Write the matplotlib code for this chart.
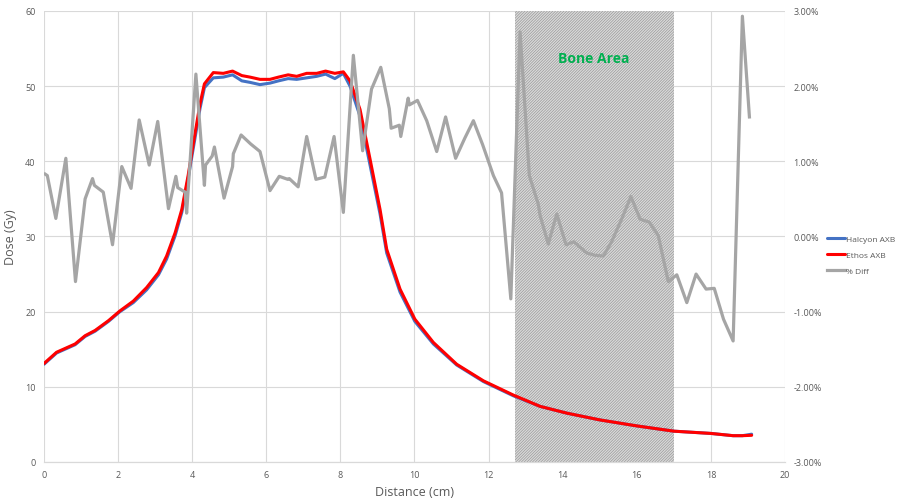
import numpy as np
from matplotlib import pyplot as plt
from matplotlib.ticker import FuncFormatter

# dose profiles (cm, Gy)
x_dose = [0, 0.34, 0.84, 1.11, 1.38, 1.74, 2.05, 2.41, 2.77, 3.09, 3.31, 3.54, 3.72, 3.89,
          4.08, 4.21, 4.33, 4.57, 4.84, 5.09, 5.34, 5.56, 5.83, 6.10, 6.33, 6.59, 6.82, 7.09,
          7.36, 7.60, 7.85, 8.08, 8.26, 8.53, 8.80, 9.07, 9.25, 9.61, 10.01, 10.51, 11.14,
          11.86, 12.67, 13.39, 14.11, 15.0, 16.0, 17.0, 18.0, 18.6, 18.85, 19.1]
ethos = [13.1, 14.6, 15.7, 16.8, 17.5, 18.8, 20.1, 21.4, 23.2, 25.2, 27.4, 30.5, 33.6, 38.1,
         43.8, 47.6, 50.3, 51.8, 51.7, 52.0, 51.4, 51.2, 50.9, 50.9, 51.2, 51.5, 51.3, 51.7,
         51.7, 52.0, 51.7, 51.9, 50.7, 46.9, 40.3, 33.6, 28.3, 23.0, 19.0, 15.9, 13.0,
         10.8, 8.9, 7.4, 6.5, 5.6, 4.8, 4.1, 3.8, 3.5, 3.5, 3.55]
halcyon = [13.0, 14.5, 15.6, 16.7, 17.4, 18.7, 20.0, 21.2, 22.9, 24.9, 27.0, 30.1, 33.2, 37.7,
           43.2, 47.0, 49.8, 51.1, 51.2, 51.5, 50.7, 50.5, 50.2, 50.4, 50.7, 51.0, 50.9, 51.1,
           51.3, 51.6, 51.0, 51.7, 50.0, 46.0, 39.5, 33.0, 27.8, 22.6, 18.7, 15.7, 12.9,
           10.7, 8.8, 7.4, 6.5, 5.6, 4.8, 4.1, 3.8, 3.5, 3.5, 3.7]

# percent difference (cm, %)
x_diff = [0.03, 0.09, 0.32, 0.59, 0.85, 1.11, 1.31, 1.36, 1.60, 1.85, 2.10, 2.35, 2.57, 2.84,
          3.07, 3.36, 3.56, 3.61, 3.81, 3.85, 4.10, 4.33, 4.36, 4.54, 4.60, 4.86, 5.09, 5.11,
          5.32, 5.58, 5.83, 6.10, 6.35, 6.58, 6.62, 6.86, 7.09, 7.34, 7.58, 7.83, 8.08, 8.35,
          8.60, 8.84, 9.09, 9.32, 9.37, 9.59, 9.63, 9.83, 9.86, 10.08, 10.33, 10.60, 10.84,
          11.11, 11.36, 11.59, 11.84, 12.13, 12.35, 12.60, 12.85, 13.10, 13.34, 13.39, 13.61,
          13.84, 14.09, 14.30, 14.65, 14.87, 15.10, 15.32, 15.59, 15.84, 16.09, 16.34, 16.58,
          16.85, 17.08, 17.35, 17.60, 17.87, 18.09, 18.34, 18.60, 18.85, 19.04]
pct_diff = [0.83, 0.81, 0.24, 1.04, -0.60, 0.50, 0.77, 0.68, 0.59, -0.11, 0.93, 0.64, 1.55, 0.95,
            1.53, 0.37, 0.80, 0.65, 0.59, 0.31, 2.16, 0.68, 0.95, 1.07, 1.19, 0.51, 0.93, 1.10,
            1.35, 1.23, 1.13, 0.61, 0.80, 0.76, 0.77, 0.66, 1.33, 0.76, 0.79, 1.33, 0.32, 2.41,
            1.14, 1.96, 2.25, 1.70, 1.44, 1.48, 1.33, 1.84, 1.75, 1.81, 1.54, 1.13, 1.59,
            1.04, 1.31, 1.54, 1.22, 0.81, 0.58, -0.83, 2.72, 0.81, 0.43, 0.28, -0.10,
            0.30, -0.11, -0.07, -0.22, -0.25, -0.26, -0.07, 0.23, 0.53, 0.23, 0.19, 0.01,
            -0.60, -0.51, -0.88, -0.50, -0.70, -0.69, -1.10, -1.39, 2.93, 1.59]

bone_start, bone_end = 12.7, 17.0

plt.rcParams['font.family'] = ['Open Sans', 'DejaVu Sans']
plt.rcParams['hatch.linewidth'] = 0.5

fig = plt.figure(figsize=(9.05, 5.02), dpi=100)
ax = fig.add_axes([0.0486, 0.0777, 0.8188, 0.8985])
ax2 = ax.twinx()

ax.axvspan(bone_start, bone_end, facecolor='#dadada', edgecolor='#999999',
           hatch='////////////', linewidth=0, zorder=1)
ax.text((bone_start + bone_end) / 2, 53.7, 'Bone Area', color='#00B050', fontsize=10,
        fontweight='bold', ha='center', va='center', zorder=5)

l1, = ax.plot(x_dose, halcyon, color='#4472C4', lw=2.2, label='Halcyon AXB', zorder=3,
              solid_capstyle='round')
l2, = ax.plot(x_dose, ethos, color='#FF0000', lw=2.2, label='Ethos AXB', zorder=4,
              solid_capstyle='round')
l3, = ax2.plot(x_diff, pct_diff, color='#A5A5A5', lw=2.3, label='% Diff')

ax.set_xlim(0, 20)
ax.set_ylim(0, 60)
ax.set_xticks(np.arange(0, 21, 2))
ax.set_yticks(np.arange(0, 61, 10))
ax2.set_ylim(-3, 3)
ax2.set_yticks(np.arange(-3, 3.1, 1))
ax2.yaxis.set_major_formatter(FuncFormatter(lambda v, p: '%.2f%%' % v))

ax.grid(True, color='#d9d9d9', linewidth=0.8, zorder=0)
ax.set_axisbelow(True)
for a in (ax, ax2):
    for s in ['top', 'left', 'right']:
        a.spines[s].set_visible(False)
    a.spines['bottom'].set_color('#d9d9d9')
    a.tick_params(length=0, labelsize=6.5, labelcolor='#595959', pad=6)

ax.set_xlabel('Distance (cm)', fontsize=9, color='#595959', labelpad=4)
ax.set_ylabel('Dose (Gy)', fontsize=9, color='#595959', labelpad=6)

fig.legend([l1, l2, l3], ['Halcyon AXB', 'Ethos AXB', '% Diff'], loc='center left',
           bbox_to_anchor=(0.905, 0.49), frameon=False, fontsize=6, handlelength=2.2,
           handletextpad=0.1, labelspacing=1.0, labelcolor='#595959')

fig.savefig('out.png', dpi=100)
